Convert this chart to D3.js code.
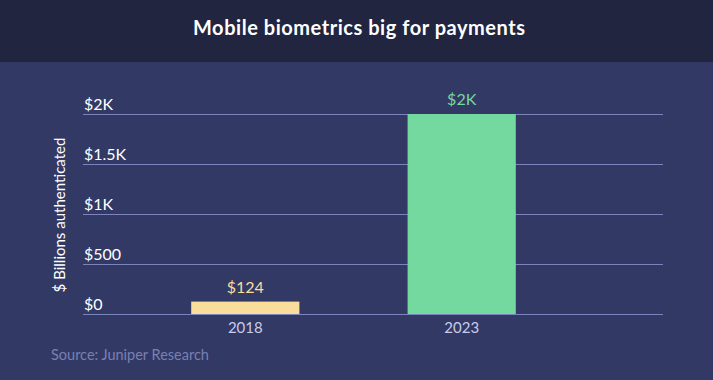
<!DOCTYPE html>
<html><head><meta charset="utf-8">
<script src="https://cdn.jsdelivr.net/npm/d3@7"></script>
<style>
html,body{margin:0;padding:0;background:#333965;}
svg{display:block;font-family:Lato, "Noto Sans", sans-serif;}
</style></head>
<body><svg id="c" width="713" height="380"></svg>
<script>
const categories = ["2018", "2023"];
const values = [124, 2000];
const valueLabels = ["$124", "$2K"];
const barColors = ["#f9dd9b", "#74d99f"];
const tickValues = [0, 500, 1000, 1500, 2000];
const tickLabels = ["$0", "$500", "$1K", "$1.5K", "$2K"];
const title = "Mobile biometrics big for payments";
const yTitle = "$ Billions authenticated";
const source = "Source: Juniper Research";

const svg = d3.select("#c");
const W = 713, H = 380;
svg.append("rect").attr("width", W).attr("height", H).attr("fill", "#333965");
svg.append("rect").attr("width", W).attr("height", 62).attr("fill", "#21253f");
svg.append("text").attr("x", 359).attr("y", 35).attr("text-anchor", "middle")
  .attr("fill", "#ffffff").attr("font-size", 20).attr("font-weight", 700)
  .attr("textLength", 332).attr("lengthAdjust", "spacing").text(title);

const gridX0 = 83, gridX1 = 663;
const y = d3.scaleLinear().domain([0, 2000]).range([314, 114]);
const x = d3.scaleBand().domain(categories).range([83, 624]).paddingInner(0.5).paddingOuter(0.5);

const yAxis = d3.axisLeft(y).tickValues(tickValues).tickSize(0).tickFormat((d,i)=>tickLabels[i]);
const gy = svg.append("g").call(yAxis);
gy.select(".domain").remove();
gy.selectAll(".tick").each(function(d){
  const g = d3.select(this);
  g.append("line").attr("x1", gridX0).attr("x2", gridX1).attr("y1", 0).attr("y2", 0)
    .attr("stroke", "#7d84bd").attr("stroke-width", 1);
  g.select("text").attr("x", 84).attr("dy", "-5").attr("text-anchor", "start")
    .attr("fill", "#ffffff").attr("font-size", 16).attr("font-family", "Lato, sans-serif");
});

svg.selectAll("rect.bar").data(values).join("rect").attr("class", "bar")
  .attr("x", (d,i)=>x(categories[i])).attr("width", x.bandwidth())
  .attr("y", d=>y(d)).attr("height", d=>y(0)-y(d))
  .attr("fill", (d,i)=>barColors[i]);

svg.selectAll("text.vl").data(values).join("text").attr("class", "vl")
  .attr("x", (d,i)=>x(categories[i]) + x.bandwidth()/2).attr("y", d=>y(d) - 9)
  .attr("text-anchor", "middle").attr("font-size", 16)
  .attr("fill", (d,i)=>barColors[i]).text((d,i)=>valueLabels[i]);

const xAxis = d3.axisBottom(x).tickSize(0);
const gx = svg.append("g").attr("transform", "translate(0,314)").call(xAxis);
gx.select(".domain").remove();
gx.selectAll("text").attr("dy", "0").attr("y", 19).attr("fill", "#c8cceb")
  .attr("font-size", 15).attr("font-family", "Lato, sans-serif");

svg.append("text").attr("transform", "translate(65,215) rotate(-90)")
  .attr("text-anchor", "middle").attr("fill", "#ffffff").attr("font-size", 15).text(yTitle);

svg.append("text").attr("x", 51).attr("y", 360).attr("fill", "#7980b2")
  .attr("font-size", 14.5).text(source);
</script></body></html>
